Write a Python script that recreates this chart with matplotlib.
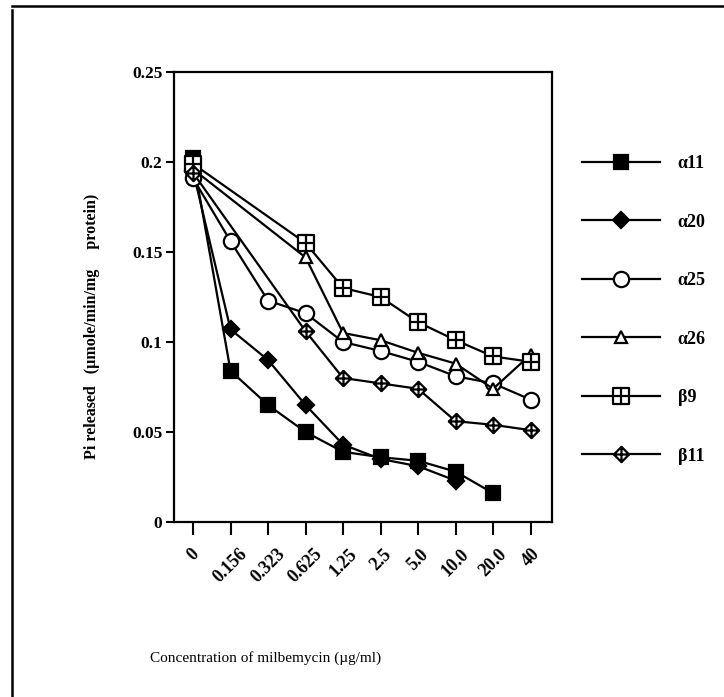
import numpy as np
import matplotlib
matplotlib.use("Agg")
import matplotlib.pyplot as plt
from matplotlib.path import Path
from matplotlib.lines import Line2D

# ---- data ----
categories = ["0", "0.156", "0.323", "0.625", "1.25", "2.5", "5.0", "10.0", "20.0", "40"]
a11 = [0.202, 0.084, 0.065, 0.050, 0.039, 0.036, 0.034, 0.028, 0.016, None]
a20 = [0.195, 0.107, 0.090, 0.065, 0.043, 0.035, 0.031, 0.023, None, None]
a25 = [0.191, 0.156, 0.123, 0.116, 0.100, 0.095, 0.089, 0.081, 0.077, 0.068]
a26 = [0.196, None, None, 0.147, 0.105, 0.101, 0.094, 0.088, 0.074, 0.093]
b9 = [0.199, None, None, 0.155, 0.130, 0.125, 0.111, 0.101, 0.092, 0.089]
b11 = [0.194, None, None, 0.106, 0.080, 0.077, 0.074, 0.056, 0.054, 0.051]
series_labels = ["\u03b111", "\u03b120", "\u03b125", "\u03b126", "\u03b29", "\u03b211"]
yticks = [0, 0.05, 0.1, 0.15, 0.2, 0.25]
ytick_labels = ["0", "0.05", "0.1", "0.15", "0.2", "0.25"]

# ---- custom markers ----
sq_plus = Path(
    [(-1, -1), (1, -1), (1, 1), (-1, 1), (-1, -1), (0, -1), (0, 1), (-1, 0), (1, 0)],
    [Path.MOVETO, Path.LINETO, Path.LINETO, Path.LINETO, Path.CLOSEPOLY,
     Path.MOVETO, Path.LINETO, Path.MOVETO, Path.LINETO])
dia_plus = Path(
    [(0, -1), (1, 0), (0, 1), (-1, 0), (0, -1), (0, -1), (0, 1), (-1, 0), (1, 0)],
    [Path.MOVETO, Path.LINETO, Path.LINETO, Path.LINETO, Path.CLOSEPOLY,
     Path.MOVETO, Path.LINETO, Path.MOVETO, Path.LINETO])

styles = [
    dict(marker="s", ms=10, mfc="black", mec="black"),
    dict(marker="D", ms=8, mfc="black", mec="black"),
    dict(marker="o", ms=11, mfc="white", mec="black"),
    dict(marker="^", ms=9, mfc="white", mec="black"),
    dict(marker=sq_plus, ms=11, mfc="white", mec="black"),
    dict(marker=dia_plus, ms=11, mfc="white", mec="black"),
]

plt.rcParams["font.family"] = ["Liberation Serif", "DejaVu Serif"]

W, H = 724, 697
fig = plt.figure(figsize=(W / 100, H / 100), dpi=100)
ax = fig.add_axes([173.5 / W, 1 - 522 / H, (552 - 173.5) / W, (522 - 72) / H])

all_series = [a11, a20, a25, a26, b9, b11]
handles = []
for vals, lab, st in zip(all_series, series_labels, styles):
    xs = [i for i, v in enumerate(vals) if v is not None]
    ys = [v for v in vals if v is not None]
    ln, = ax.plot(xs, ys, color="black", lw=1.6, mew=1.6, label=lab, zorder=3, **st)
    handles.append(ln)

ax.set_xlim(-0.52, 9.57)
ax.set_ylim(0, 0.25)
ax.set_yticks(yticks)
ax.set_yticklabels(ytick_labels, fontsize=12.5, fontweight="bold")
ax.set_xticks(range(len(categories)))
ax.set_xticklabels(categories, fontsize=13, fontweight="bold", rotation=45,
                   ha="center", va="top")
ax.tick_params(axis="y", direction="out", length=6, width=1.5, pad=2)
ax.tick_params(axis="x", direction="out", length=9, width=1.5, pad=8)
for sp in ax.spines.values():
    sp.set_linewidth(1.6)

fig.text(92 / W, 1 - 326 / H, "Pi released   (\u00b5mole/min/mg     protein)",
         rotation=90, ha="center", va="center", fontsize=11.5, fontweight="bold")
fig.text(150 / W, 1 - 658 / H, "Concentration of milbemycin (\u00b5g/ml)",
         ha="left", va="center", fontsize=11)

leg = fig.legend(handles=handles, labels=series_labels, loc="upper left",
                 bbox_to_anchor=(582 / W, 1 - 155 / H), frameon=False,
                 handlelength=4.3, handletextpad=1.0, labelspacing=2.3,
                 borderpad=0, borderaxespad=0, fontsize=13)
for t in leg.get_texts():
    t.set_fontweight("bold")

# scan border lines (top and left)
fig.add_artist(Line2D([12 / W, 1], [1 - 6 / H, 1 - 6 / H], color="black", lw=1.8))
fig.add_artist(Line2D([12 / W, 12 / W], [0, 1 - 10 / H], color="black", lw=1.8))

fig.savefig("out.png", dpi=100)
